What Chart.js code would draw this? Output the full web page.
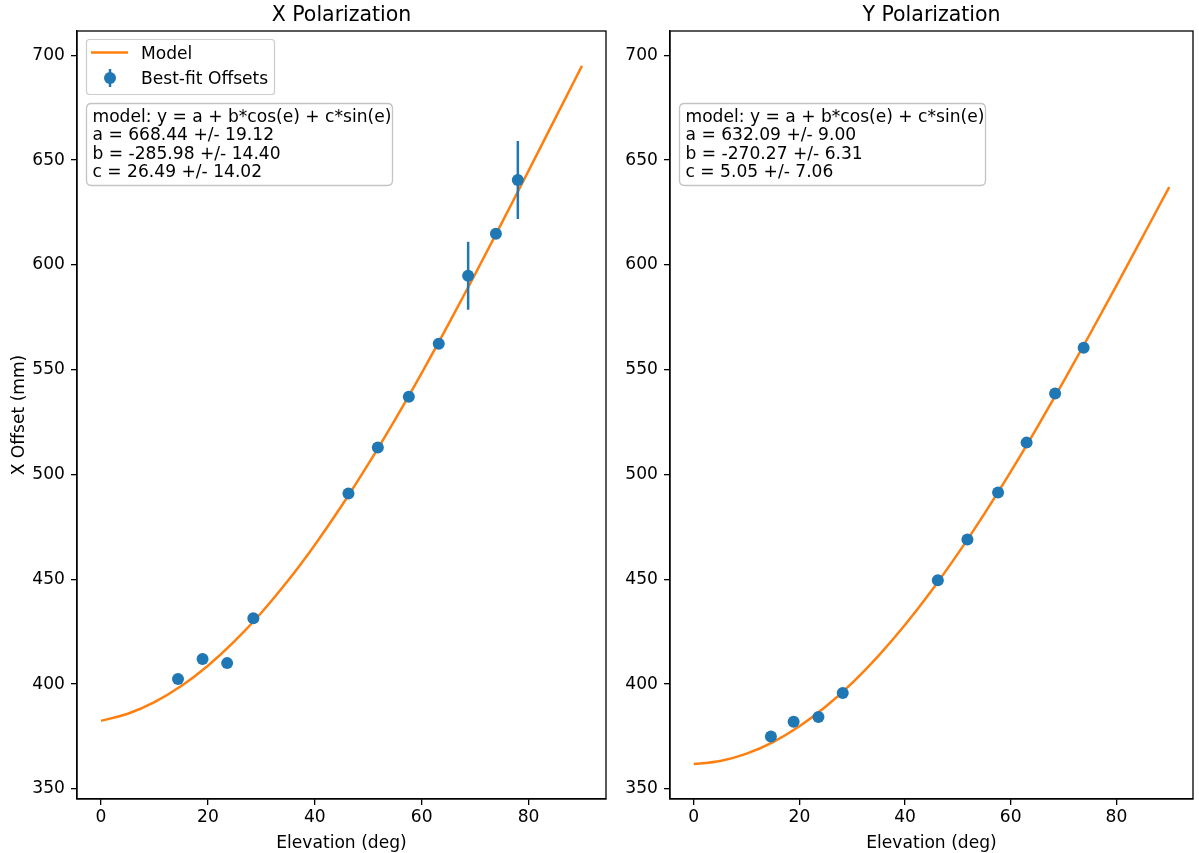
<!DOCTYPE html>
<html><head><meta charset="utf-8">
<script src="https://cdn.jsdelivr.net/npm/chart.js@4.4.1/dist/chart.umd.min.js"></script>
<style>
html,body{margin:0;padding:0;background:#fff;width:1199px;height:853px;overflow:hidden}
.wrap{position:absolute;top:0;height:853px}
</style></head>
<body>
<div class="wrap" style="left:0;width:615px"><canvas id="cx"></canvas></div>
<div class="wrap" style="left:615px;width:584px"><canvas id="cy"></canvas></div>
<script>
// ---- data ----
const elevX = [14.4, 19.0, 23.6, 28.5, 46.3, 51.8, 57.6, 63.2, 68.7, 73.9, 78.0];
const offsetX = [402.4, 412.0, 410.0, 431.4, 490.9, 512.9, 537.1, 562.4, 594.8, 614.8, 640.5];
const errX = [1.5, 2.5, 1.5, 1.5, 1.5, 1.5, 1.5, 1.5, 16.2, 1.5, 18.6];

const elevY = [14.6, 18.9, 23.6, 28.2, 46.2, 51.8, 57.6, 63.0, 68.4, 73.8];
const offsetY = [375.0, 382.0, 384.3, 395.7, 449.5, 469.0, 491.4, 515.2, 538.6, 560.5];
const errY = [1.5, 2.5, 1.5, 1.5, 1.5, 1.5, 1.5, 1.5, 1.5, 1.5];

const modelElev = [0, 5, 10, 15, 20, 25, 30, 35, 40, 45, 50, 55, 60, 65, 70, 75, 80, 85, 90];
const modelX = [382.46, 385.86, 391.40, 399.06, 408.77, 420.45, 434.02, 449.37, 466.40, 484.95, 504.91, 526.11, 548.39, 571.59, 595.52, 620.01, 644.87, 669.90, 694.93];
const modelY = [361.82, 363.29, 366.80, 372.33, 379.85, 389.27, 400.56, 413.60, 428.30, 444.55, 462.23, 481.21, 501.32, 522.45, 544.40, 567.02, 590.13, 613.56, 637.14];

const xTicks = [0, 20, 40, 60, 80];
const yTicks = [350, 400, 450, 500, 550, 600, 650, 700];

const fitTextX = ["model: y = a + b*cos(e) + c*sin(e)", "a = 668.44 +/- 19.12", "b = -285.98 +/- 14.40", "c = 26.49 +/- 14.02"];
const fitTextY = ["model: y = a + b*cos(e) + c*sin(e)", "a = 632.09 +/- 9.00", "b = -270.27 +/- 6.31", "c = 5.05 +/- 7.06"];

const BLUE = '#1f77b4', ORANGE = '#ff7f0e';
const FONT = '"DejaVu Sans", sans-serif';
const FS = 17.1, TFS = 20.5;

function roundRect(ctx, x, y, w, h, r) {
  ctx.beginPath();
  ctx.moveTo(x + r, y);
  ctx.lineTo(x + w - r, y); ctx.quadraticCurveTo(x + w, y, x + w, y + r);
  ctx.lineTo(x + w, y + h - r); ctx.quadraticCurveTo(x + w, y + h, x + w - r, y + h);
  ctx.lineTo(x + r, y + h); ctx.quadraticCurveTo(x, y + h, x, y + h - r);
  ctx.lineTo(x, y + r); ctx.quadraticCurveTo(x, y, x + r, y);
  ctx.closePath();
}

function makeChart(id, opts) {
  const pts = opts.elev.map((e, i) => ({x: e, y: opts.off[i]}));
  const line = modelElev.map((e, i) => ({x: e, y: opts.model[i]}));
  const errPlugin = {
    id: 'extras',
    beforeDatasetDraw(chart, args) {
      if (args.index !== 1) return;
      const ctx = chart.ctx, xs = chart.scales.x, ys = chart.scales.y;
      ctx.save();
      ctx.strokeStyle = BLUE; ctx.lineWidth = 2.5;
      opts.elev.forEach((e, i) => {
        const px = xs.getPixelForValue(e);
        ctx.beginPath();
        ctx.moveTo(px, ys.getPixelForValue(opts.off[i] - opts.err[i]));
        ctx.lineTo(px, ys.getPixelForValue(opts.off[i] + opts.err[i]));
        ctx.stroke();
      });
      ctx.restore();
    },
    afterDraw(chart) {
      const ctx = chart.ctx, a = chart.chartArea;
      ctx.save();
      // frame
      ctx.strokeStyle = '#000'; ctx.lineWidth = 1.3;
      ctx.strokeRect(a.left, a.top, a.right - a.left, a.bottom - a.top);
      // title
      ctx.fillStyle = '#000';
      ctx.textAlign = 'center'; ctx.textBaseline = 'alphabetic';
      ctx.font = TFS + 'px ' + FONT;
      ctx.fillText(opts.title, (a.left + a.right) / 2, 21);
      // x label
      ctx.font = FS + 'px ' + FONT;
      ctx.fillText('Elevation (deg)', (a.left + a.right) / 2, 848);
      if (opts.ylabel) {
        ctx.save();
        ctx.translate(23.5, (a.top + a.bottom) / 2);
        ctx.rotate(-Math.PI / 2);
        ctx.fillText(opts.ylabel, 0, 0);
        ctx.restore();
      }
      // legend
      if (opts.legend) {
        const lx = 86, ly = 39;
        ctx.fillStyle = 'rgba(255,255,255,0.8)';
        roundRect(ctx, lx + 0.5, ly + 0.5, 188, 55, 3);
        ctx.fill();
        ctx.strokeStyle = '#cccccc'; ctx.lineWidth = 1.2; ctx.stroke();
        ctx.strokeStyle = ORANGE; ctx.lineWidth = 2.5;
        ctx.beginPath(); ctx.moveTo(lx + 5, 52.5); ctx.lineTo(lx + 42, 52.5); ctx.stroke();
        ctx.strokeStyle = BLUE;
        ctx.beginPath(); ctx.moveTo(lx + 24, 69); ctx.lineTo(lx + 24, 87); ctx.stroke();
        ctx.fillStyle = BLUE;
        ctx.beginPath(); ctx.arc(lx + 24, 78, 6, 0, Math.PI * 2); ctx.fill();
        ctx.fillStyle = '#000'; ctx.textAlign = 'left'; ctx.textBaseline = 'alphabetic';
        ctx.font = FS + 'px ' + FONT;
        ctx.fillText('Model', lx + 55, 59);
        ctx.fillText('Best-fit Offsets', lx + 55, 84);
      }
      // fit text box
      const bx = a.left + 9.5, by = 103;
      ctx.fillStyle = 'rgba(255,255,255,0.8)';
      roundRect(ctx, bx, by + 0.5, 306, 82, 5);
      ctx.fill();
      ctx.strokeStyle = '#c4c4c4'; ctx.lineWidth = 1.3; ctx.stroke();
      ctx.fillStyle = '#000'; ctx.textAlign = 'left'; ctx.textBaseline = 'alphabetic';
      ctx.font = FS + 'px ' + FONT;
      opts.text.forEach((t, i) => ctx.fillText(t, bx + 6, 121.7 + i * 18.4));
      ctx.restore();
    }
  };
  return new Chart(document.getElementById(id), {
    type: 'scatter',
    data: {
      datasets: [
        { label: 'Model', data: line, showLine: true, borderColor: ORANGE, borderWidth: 2.5,
          pointRadius: 0, tension: 0.4, cubicInterpolationMode: 'monotone', fill: false, order: 2 },
        { label: 'Best-fit Offsets', data: pts, backgroundColor: BLUE, borderColor: BLUE,
          pointRadius: 6, pointBorderWidth: 0, order: 1 }
      ]
    },
    options: {
      responsive: true, maintainAspectRatio: false, animation: false,
      layout: { padding: { top: 31, right: opts.padRight, left: 0, bottom: 0 } },
      plugins: { legend: { display: false }, tooltip: { enabled: false }, title: { display: false } },
      scales: {
        x: {
          type: 'linear', min: -4.5, max: 94.5,
          afterBuildTicks(ax) { ax.ticks = xTicks.map(v => ({value: v})); },
          afterFit(ax) { ax.height = 54; },
          grid: { drawOnChartArea: false, drawTicks: true, tickLength: 6, color: '#000', lineWidth: 1.3 },
          border: { display: true, color: '#000', width: 1.3 },
          ticks: { color: '#000', font: { family: FONT, size: FS }, padding: 2, maxRotation: 0 }
        },
        y: {
          type: 'linear', min: 345.17, max: 711.59,
          afterBuildTicks(ax) { ax.ticks = yTicks.map(v => ({value: v})); },
          afterFit(ax) { ax.width = opts.yWidth; },
          grid: { drawOnChartArea: false, drawTicks: true, tickLength: 6, color: '#000', lineWidth: 1.3 },
          border: { display: true, color: '#000', width: 1.3 },
          ticks: { color: '#000', font: { family: FONT, size: FS }, padding: 6 }
        }
      }
    },
    plugins: [errPlugin]
  });
}

makeChart('cx', { elev: elevX, off: offsetX, err: errX, model: modelX, title: 'X Polarization',
  ylabel: 'X Offset (mm)', legend: true, text: fitTextX, yWidth: 77, padRight: 9 });
makeChart('cy', { elev: elevY, off: offsetY, err: errY, model: modelY, title: 'Y Polarization',
  ylabel: null, legend: false, text: fitTextY, yWidth: 55, padRight: 2 });
</script>
</body></html>
